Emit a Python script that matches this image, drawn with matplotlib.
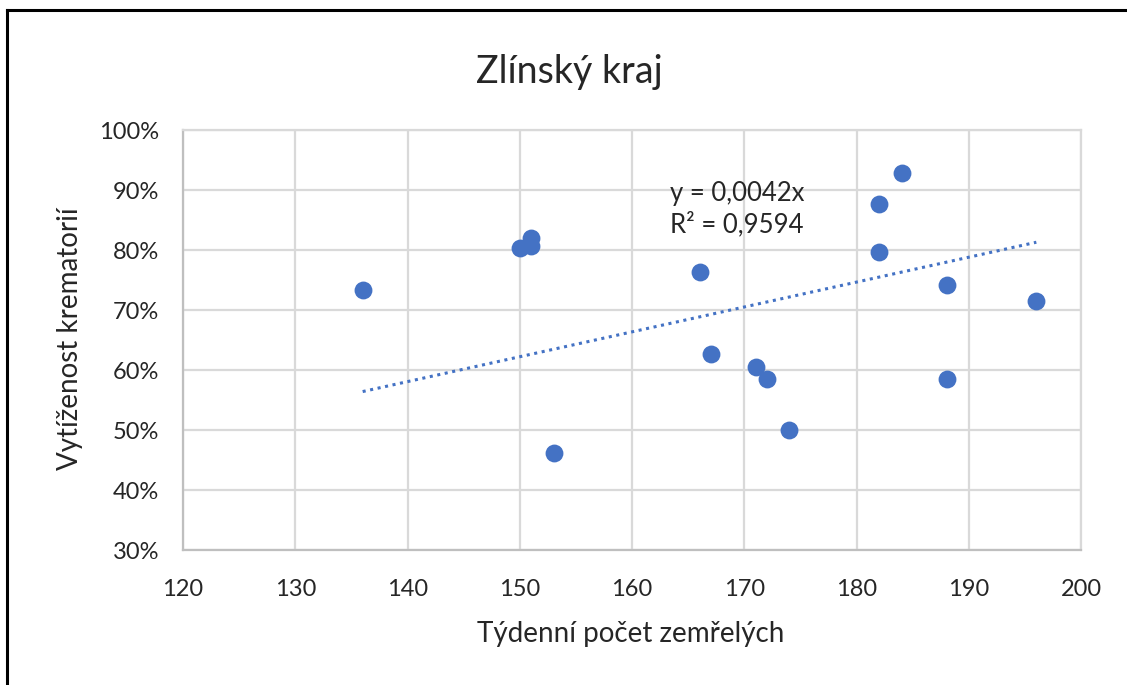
import matplotlib.pyplot as plt
import matplotlib.ticker as mticker
import numpy as np

plt.rcParams['font.family'] = ['Lato', 'DejaVu Sans']

# weekly deaths vs crematorium load (Zlín region)
deaths = [136, 150, 151, 151, 153, 166, 167, 171, 172, 174, 182, 182, 184, 188, 188, 196]
load = [0.733, 0.803, 0.820, 0.807, 0.462, 0.763, 0.627, 0.605, 0.585, 0.500,
        0.877, 0.797, 0.928, 0.742, 0.585, 0.715]
eq_text = 'y = 0,0042x\nR² = 0,9594'

blue = '#4472C4'
grid = '#D9D9D9'
txt = '#262626'

fig = plt.figure(figsize=(11.27, 6.85), dpi=100)
ax = fig.add_axes([0.1624, 0.197, 0.797, 0.613])

x = np.array(deaths, dtype=float)
y = np.array(load)
# trendline through origin, like Excel "set intercept = 0"
k = np.sum(x * y) / np.sum(x * x)
xt = np.array([x.min(), x.max()])
ax.plot(xt, k * xt, color=blue, lw=2.2, ls=(0, (1, 1.5)), zorder=2)

ax.scatter(x, y, s=165, color=blue, zorder=3, linewidths=0)

ax.set_xlim(120, 200)
ax.set_ylim(0.30, 1.00)
ax.set_xticks(np.arange(120, 201, 10))
ax.set_yticks(np.arange(0.3, 1.001, 0.1))
ax.yaxis.set_major_formatter(mticker.PercentFormatter(1.0, decimals=0))
ax.grid(True, color=grid, lw=1.6)
ax.set_axisbelow(True)
for s in ax.spines.values():
    s.set_color(grid)
    s.set_linewidth(1.6)
ax.spines['bottom'].set_color('#BFBFBF')
ax.spines['left'].set_color('#BFBFBF')
ax.tick_params(length=0, labelsize=17, colors=txt)
ax.tick_params(axis='y', pad=17)
ax.tick_params(axis='x', pad=21)

fig.text(0.505, 1 - 72 / 685, 'Zlínský kraj', fontsize=27, color=txt,
         ha='center', va='center')
fig.text(631 / 1127, 1 - 634 / 685, 'Týdenní počet zemřelých', fontsize=20,
         color=txt, ha='center', va='center')
fig.text(70 / 1127, 1 - 339 / 685, 'Vytíženost krematorií', fontsize=20,
         color=txt, ha='center', va='center', rotation=90)

ax.text(163.4, 0.868, eq_text, fontsize=18.5, color=txt, va='center',
        linespacing=1.25)

# border of the screenshot
fig.add_artist(plt.Line2D([0.0062, 0.0062], [0, 0.985], color='black', lw=2.2,
                          transform=fig.transFigure))
fig.add_artist(plt.Line2D([0.0062, 1], [0.985, 0.985], color='black', lw=2.2,
                          transform=fig.transFigure))

fig.savefig('out.png', dpi=100)
